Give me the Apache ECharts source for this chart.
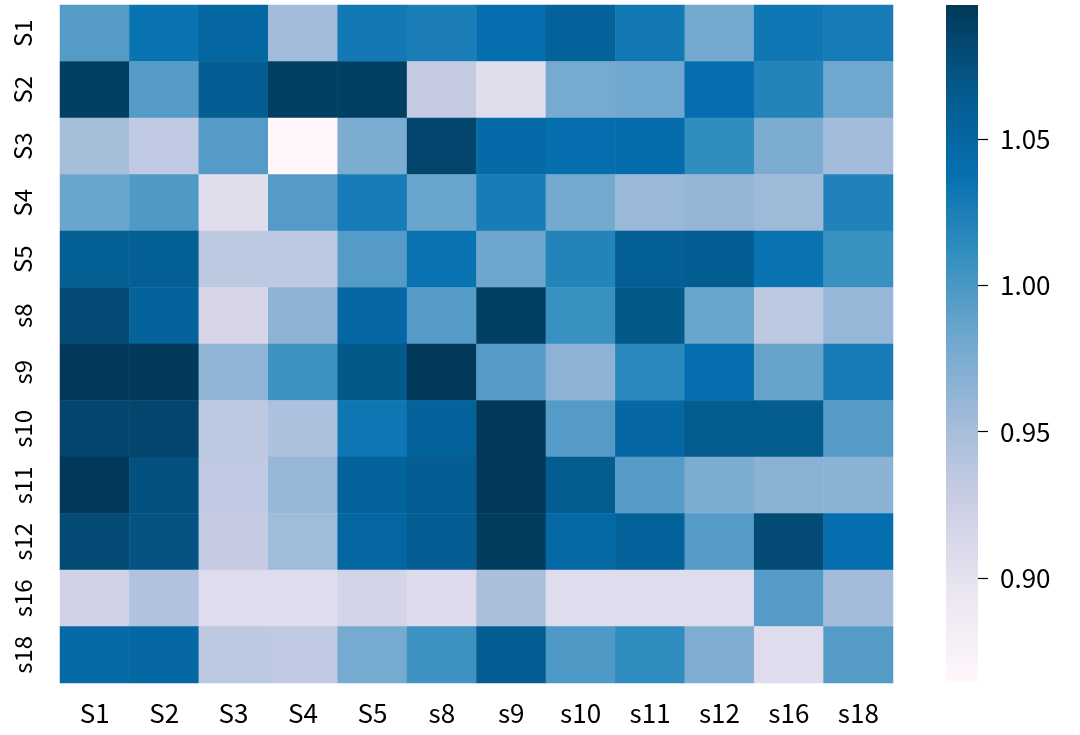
<!DOCTYPE html>
<html>
<head>
<meta charset="utf-8">
<script src="https://cdn.jsdelivr.net/npm/echarts@6/dist/echarts.min.js"></script>
<style>html,body{margin:0;padding:0;background:#fff}#c{width:1080px;height:735px}</style>
</head>
<body>
<div id="c"></div>
<script>
const categories = ['S1','S2','S3','S4','S5','s8','s9','s10','s11','s12','s16','s18'];
// rows top to bottom, columns left to right
const rowS1  = [0.995,1.035,1.050,0.952,1.030,1.025,1.040,1.055,1.030,0.980,1.032,1.028];
const rowS2  = [1.090,0.995,1.062,1.090,1.090,0.930,0.905,0.978,0.982,1.040,1.020,0.982];
const rowS3  = [0.950,0.933,0.995,0.864,0.975,1.085,1.045,1.040,1.042,1.012,0.975,0.952];
const rowS4  = [0.985,0.998,0.905,0.995,1.028,0.985,1.027,0.980,0.958,0.962,0.955,1.022];
const rowS5  = [1.060,1.060,0.935,0.935,0.995,1.035,0.983,1.020,1.060,1.063,1.035,1.008];
const rows8  = [1.080,1.055,0.915,0.965,1.048,0.995,1.090,1.008,1.068,0.985,0.935,0.960];
const rows9  = [1.095,1.095,0.963,1.005,1.068,1.096,0.995,0.966,1.015,1.040,0.986,1.028];
const rows10 = [1.085,1.085,0.935,0.946,1.033,1.055,1.095,0.995,1.048,1.065,1.065,0.995];
const rows11 = [1.095,1.075,0.933,0.960,1.055,1.062,1.095,1.064,0.995,0.975,0.967,0.967];
const rows12 = [1.080,1.073,0.930,0.954,1.050,1.062,1.093,1.047,1.056,0.995,1.080,1.040];
const rows16 = [0.922,0.944,0.906,0.906,0.918,0.908,0.948,0.906,0.906,0.906,0.995,0.952];
const rows18 = [1.046,1.048,0.935,0.933,0.978,1.005,1.062,0.998,1.013,0.974,0.906,0.995];
const values = [rowS1,rowS2,rowS3,rowS4,rowS5,rows8,rows9,rows10,rows11,rows12,rows16,rows18];
const cbMin = 0.864, cbMax = 1.096;
const cbTicks = [0.90, 0.95, 1.00, 1.05];
const puBu = ['#fff7fb','#ece7f2','#d0d1e6','#a6bddb','#74a9cf','#3690c0','#0570b0','#045a8d','#023858'];

const heatData = [];
values.forEach((row, r) => row.forEach((v, c) => heatData.push([c, r, v])));

const NARROW = "'Liberation Sans Narrow', 'Noto Sans CJK JP', sans-serif";
const FONT = "'Noto Sans CJK JP', 'Noto Sans', sans-serif";
const chart = echarts.init(document.getElementById('c'), null, {renderer: 'canvas'});
chart.setOption({
  animation: false,
  backgroundColor: '#fff',
  grid: [
    {left: 60, top: 5, width: 833, height: 678},
    {left: 946, top: 5, width: 32, height: 678}
  ],
  xAxis: [
    {type: 'category', gridIndex: 0, data: categories,
     axisLine: {show: false}, splitLine: {show: false},
     axisTick: {alignWithLabel: true, length: 10, lineStyle: {color: '#000', width: 1.2}},
     axisLabel: {color: '#000', fontSize: 26, fontFamily: NARROW, margin: 17}},
    {type: 'category', gridIndex: 1, data: ['cb'], show: false}
  ],
  yAxis: [
    {type: 'category', gridIndex: 0, data: categories, inverse: true,
     axisLine: {show: false}, splitLine: {show: false},
     axisTick: {alignWithLabel: true, length: 10, lineStyle: {color: '#000', width: 1.2}},
     axisLabel: {color: '#000', fontSize: 24, fontFamily: NARROW, rotate: 90, margin: 25}},
    {type: 'value', gridIndex: 1, min: cbMin, max: cbMax, position: 'right',
     axisLine: {show: false}, splitLine: {show: false},
     axisTick: {show: true, length: 10, customValues: cbTicks, lineStyle: {color: '#000', width: 1.2}},
     axisLabel: {show: true, customValues: cbTicks, color: '#000', fontSize: 26, fontFamily: FONT, margin: 22,
                 formatter: v => v.toFixed(2)}}
  ],
  visualMap: {show: false, type: 'continuous', min: cbMin, max: cbMax, dimension: 2, seriesIndex: 0,
              inRange: {color: puBu}},
  series: [
    {type: 'heatmap', xAxisIndex: 0, yAxisIndex: 0, data: heatData, itemStyle: {borderWidth: 0}},
    {type: 'custom', xAxisIndex: 1, yAxisIndex: 1, data: [[0, cbMin, cbMax]],
     renderItem: function (params, api) {
       const top = api.coord([api.value(0), api.value(2)]);
       const bot = api.coord([api.value(0), api.value(1)]);
       const w = api.size([1, 0])[0];
       return {type: 'rect',
         shape: {x: top[0] - w / 2, y: top[1], width: w, height: bot[1] - top[1]},
         style: {fill: new echarts.graphic.LinearGradient(0, 1, 0, 0,
           puBu.map((c, i) => ({offset: i / (puBu.length - 1), color: c})))}};
     }}
  ]
});
</script>
</body>
</html>
